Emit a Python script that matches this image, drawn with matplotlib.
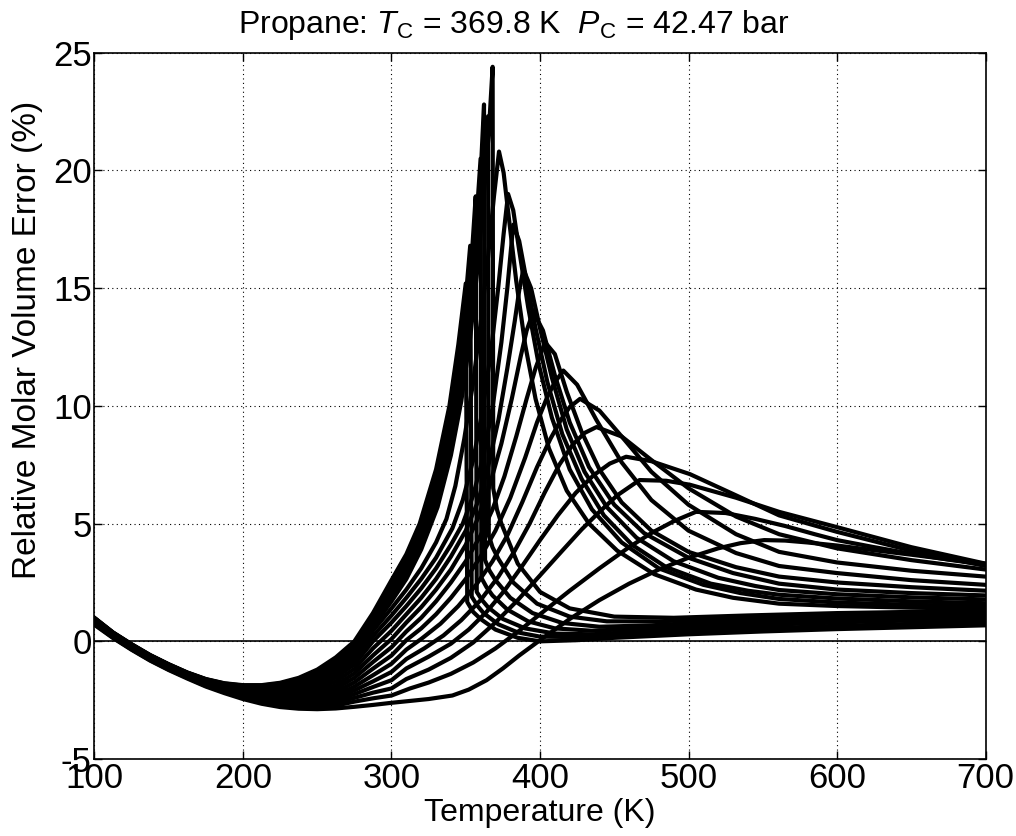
import matplotlib
matplotlib.use("Agg")
import matplotlib.pyplot as plt

# Police proche de Helvetica (MATLAB)
plt.rcParams['font.family'] = ['Liberation Sans', 'DejaVu Sans']
plt.rcParams['mathtext.fontset'] = 'custom'
plt.rcParams['mathtext.rm'] = 'Liberation Sans'
plt.rcParams['mathtext.it'] = 'Liberation Sans:italic'
plt.rcParams['axes.unicode_minus'] = False

# ------ Data ------
# cold part shared by every isobar (K), one row per temperature,
# columns = 7 subcritical isobars then 13 supercritical isobars
T_cold = [100, 112.5, 125, 137.5, 150, 162.5, 175, 187.5, 200, 212.5, 225, 237.5,
          250, 262.5, 275, 287.5, 300]
E_cold = [
    [1.00, 0.99, 0.98, 0.97, 0.96, 0.96, 0.95, 0.93, 0.92, 0.90, 0.88, 0.87, 0.85, 0.83, 0.81, 0.79, 0.78, 0.75, 0.73, 0.70],
    [0.38, 0.37, 0.36, 0.36, 0.35, 0.34, 0.33, 0.32, 0.31, 0.29, 0.28, 0.26, 0.25, 0.23, 0.22, 0.20, 0.19, 0.17, 0.16, 0.14],
    [-0.12, -0.13, -0.14, -0.14, -0.15, -0.16, -0.17, -0.18, -0.19, -0.20, -0.22, -0.23, -0.25, -0.26, -0.28, -0.29, -0.31, -0.33, -0.34, -0.36],
    [-0.58, -0.59, -0.60, -0.60, -0.61, -0.62, -0.63, -0.64, -0.65, -0.66, -0.68, -0.69, -0.71, -0.72, -0.74, -0.75, -0.77, -0.79, -0.80, -0.82],
    [-0.97, -0.98, -0.99, -0.99, -1.00, -1.01, -1.02, -1.03, -1.04, -1.05, -1.07, -1.08, -1.10, -1.11, -1.13, -1.14, -1.16, -1.18, -1.20, -1.22],
    [-1.32, -1.33, -1.34, -1.34, -1.35, -1.36, -1.37, -1.38, -1.39, -1.41, -1.42, -1.44, -1.45, -1.47, -1.48, -1.50, -1.52, -1.53, -1.55, -1.58],
    [-1.60, -1.61, -1.62, -1.63, -1.64, -1.65, -1.66, -1.67, -1.69, -1.71, -1.72, -1.74, -1.76, -1.78, -1.80, -1.82, -1.84, -1.86, -1.89, -1.92],
    [-1.78, -1.79, -1.81, -1.82, -1.83, -1.84, -1.86, -1.88, -1.90, -1.92, -1.94, -1.97, -1.99, -2.02, -2.04, -2.07, -2.10, -2.12, -2.16, -2.20],
    [-1.86, -1.88, -1.90, -1.91, -1.93, -1.95, -1.97, -2.00, -2.03, -2.05, -2.09, -2.13, -2.16, -2.20, -2.23, -2.27, -2.30, -2.34, -2.39, -2.45],
    [-1.86, -1.88, -1.91, -1.93, -1.95, -1.98, -2.00, -2.04, -2.08, -2.12, -2.17, -2.22, -2.26, -2.31, -2.36, -2.41, -2.45, -2.51, -2.57, -2.65],
    [-1.76, -1.79, -1.82, -1.85, -1.88, -1.91, -1.95, -2.00, -2.05, -2.10, -2.16, -2.22, -2.29, -2.35, -2.41, -2.47, -2.53, -2.60, -2.69, -2.79],
    [-1.55, -1.59, -1.63, -1.67, -1.71, -1.75, -1.79, -1.85, -1.92, -1.98, -2.06, -2.14, -2.22, -2.30, -2.38, -2.45, -2.53, -2.62, -2.73, -2.86],
    [-1.20, -1.26, -1.32, -1.38, -1.44, -1.50, -1.56, -1.66, -1.77, -1.88, -1.99, -2.10, -2.21, -2.32, -2.43, -2.53, -2.62, -2.70, -2.79, -2.88],
    [-0.68, -0.76, -0.84, -0.92, -1.00, -1.08, -1.16, -1.26, -1.40, -1.54, -1.70, -1.86, -2.00, -2.14, -2.28, -2.40, -2.51, -2.62, -2.73, -2.85],
    [0.00, -0.09, -0.18, -0.27, -0.36, -0.45, -0.54, -0.66, -0.82, -0.98, -1.17, -1.36, -1.55, -1.74, -1.92, -2.08, -2.24, -2.40, -2.56, -2.78],
    [1.20, 1.10, 1.00, 0.90, 0.80, 0.70, 0.60, 0.45, 0.22, 0.00, -0.30, -0.60, -0.88, -1.16, -1.44, -1.70, -1.94, -2.18, -2.42, -2.70],
    [2.60, 2.45, 2.30, 2.15, 2.00, 1.85, 1.70, 1.40, 1.10, 0.80, 0.45, 0.10, -0.25, -0.60, -0.95, -1.30, -1.65, -2.00, -2.30, -2.61],
]

# hot part of the subcritical isobars: liquid up to saturation, jump, vapour
hot_sub_T = [
    [310, 319, 330, 339, 345, 350, 351, 355, 360, 370, 385, 400, 425, 450, 500, 550, 600, 650, 700],
    [310, 320, 330, 340, 346, 350, 353, 354, 358, 362, 372, 385, 400, 425, 450, 500, 550, 600, 650, 700],
    [310, 320, 330, 340, 346, 351, 354.5, 356.7, 357.4, 361, 365, 375, 390, 410, 435, 470, 520, 570, 620, 660, 700],
    [310, 320, 330, 340, 346, 352, 356, 360, 360.5, 364, 368, 378, 392, 410, 435, 470, 520, 570, 620, 700],
    [310, 320, 330, 340, 346, 352, 357, 360, 362.3, 363, 366, 370, 380, 395, 415, 440, 475, 520, 570, 620, 700],
    [310, 320, 330, 340, 346, 352, 357, 361, 365, 365.5, 368, 372, 382, 398, 420, 445, 480, 530, 580, 630, 700],
    [310, 320, 331, 340, 347, 353, 358, 362, 365.5, 368.1, 368.5, 371, 374, 385, 400, 420, 450, 490, 540, 600, 650, 700],
]
hot_sub_E = [
    [3.7, 5.0, 7.3, 10.0, 12.6, 15.2, 1.67, 1.25, 0.95, 0.5, 0.15, 0.0, 0.05, 0.15, 0.3, 0.42, 0.52, 0.6, 0.68],
    [3.5, 4.95, 6.9, 9.6, 12.2, 14.6, 16.8, 1.9, 1.5, 1.2, 0.72, 0.38, 0.2, 0.18, 0.25, 0.42, 0.55, 0.66, 0.74, 0.8],
    [3.3, 4.7, 6.6, 9.2, 11.6, 14.3, 16.8, 18.9, 2.1, 1.75, 1.45, 0.95, 0.55, 0.33, 0.3, 0.42, 0.6, 0.74, 0.84, 0.9, 0.92],
    [3.1, 4.5, 6.35, 8.85, 11.1, 14.2, 16.8, 20.5, 2.7, 2.3, 1.95, 1.35, 0.85, 0.55, 0.45, 0.55, 0.72, 0.86, 0.96, 1.02],
    [2.95, 4.3, 6.1, 8.5, 10.7, 13.6, 16.9, 19.8, 22.8, 3.45, 3.0, 2.6, 1.85, 1.2, 0.78, 0.62, 0.68, 0.84, 0.98, 1.07, 1.12],
    [2.8, 4.1, 5.85, 8.2, 10.3, 13.1, 16.2, 19.4, 22.3, 4.5, 4.0, 3.5, 2.5, 1.6, 1.05, 0.85, 0.85, 0.98, 1.1, 1.17, 1.2],
    [2.65, 3.9, 5.7, 7.9, 10.2, 12.9, 15.9, 18.8, 21.6, 24.4, 6.5, 5.6, 5.0, 3.3, 2.1, 1.4, 1.05, 1.0, 1.1, 1.2, 1.25, 1.28],
]

# hot part of the supercritical isobars
hot_sup_T = [
    [310, 320, 330, 337, 343, 349, 355, 360, 365, 369, 372.4, 375.5, 379, 384, 390, 397, 406, 418, 433, 452, 477, 505, 530, 561, 600, 650, 700],
    [310, 320, 330, 341, 348, 355, 361, 367, 372, 375.5, 378.5, 382, 386, 392, 399, 408, 420, 435, 455, 480, 510, 535, 561, 600, 650, 700],
    [310, 320, 330, 340, 348, 355, 362, 368, 374, 378, 382, 386, 391, 397, 405, 415, 428, 443, 462, 485, 515, 540, 561, 600, 650, 700],
    [310, 320, 330, 340, 350, 358, 365, 372, 378, 383, 386, 388.8, 394, 400, 408, 418, 430, 445, 465, 490, 520, 545, 561, 600, 650, 700],
    [310, 320, 330, 340, 350, 358, 366, 374, 381, 387, 391, 395.5, 402, 410, 420, 433, 450, 470, 500, 530, 561, 600, 650, 700],
    [310, 320, 330, 340, 350, 360, 368, 376, 384, 391, 397, 403.4, 410, 418, 428, 440, 455, 475, 500, 532, 561, 600, 650, 700],
    [310, 320, 330, 340, 350, 360, 370, 380, 390, 398, 405, 410, 415.7, 425, 438, 455, 475, 500, 532, 561, 600, 650, 700],
    [310, 320, 333, 345, 357, 368, 378, 388, 398, 407, 414, 420, 427, 440, 455, 475, 500, 532, 561, 600, 650, 700],
    [310, 322, 335, 347, 360, 372, 383, 393, 403, 413, 422, 430, 438, 455, 475, 500, 532, 561, 600, 650, 700],
    [310, 325, 340, 352, 364, 376, 388, 400, 412, 424, 436, 447, 458, 475, 501, 532, 561, 600, 650, 700],
    [310, 325, 340, 355, 370, 385, 400, 415, 428, 440, 452, 467, 485, 501, 532, 561, 600, 650, 700],
    [312.5, 325, 340, 355, 370, 385, 400, 420, 440, 460, 475, 490, 505, 525, 545, 565, 585, 600, 625, 650, 675, 700],
    [312.5, 325, 341, 352, 364, 375, 386, 400, 420, 440, 460, 480, 500, 520, 535, 551, 565, 580, 600, 625, 650, 675, 700],
]
hot_sup_E = [
    [2.2, 3.1, 4.2, 5.2, 6.6, 8.6, 11.0, 13.5, 16.3, 18.9, 20.8, 19.9, 18.0, 15.3, 12.6, 10.3, 8.2, 6.4, 5.0, 3.85, 2.85, 2.2, 1.85, 1.6, 1.5, 1.43, 1.38],
    [1.85, 2.65, 3.55, 4.8, 6.0, 7.7, 9.7, 12.3, 15.1, 17.3, 19.0, 18.3, 16.6, 14.2, 11.8, 9.5, 7.3, 5.6, 4.2, 3.1, 2.4, 2.05, 1.8, 1.65, 1.55, 1.5],
    [1.5, 2.25, 3.1, 4.1, 5.0, 6.2, 7.9, 9.9, 12.7, 15.0, 17.7, 17.0, 15.3, 13.3, 11.0, 8.8, 6.9, 5.35, 4.1, 3.15, 2.45, 2.15, 1.98, 1.82, 1.7, 1.62],
    [1.15, 1.85, 2.65, 3.6, 4.7, 5.9, 7.4, 9.4, 11.6, 13.6, 14.9, 15.8, 15.0, 13.3, 11.2, 9.0, 7.2, 5.7, 4.4, 3.4, 2.7, 2.35, 2.18, 2.0, 1.87, 1.78],
    [0.8, 1.45, 2.2, 3.05, 4.1, 5.2, 6.6, 8.4, 10.3, 12.1, 13.2, 14.0, 13.2, 11.3, 9.3, 7.4, 5.8, 4.6, 3.55, 2.9, 2.45, 2.2, 2.05, 1.95],
    [0.42, 1.0, 1.7, 2.5, 3.4, 4.5, 5.6, 7.0, 8.7, 10.3, 11.6, 12.7, 12.2, 10.6, 8.9, 7.3, 5.9, 4.7, 3.8, 3.15, 2.75, 2.5, 2.3, 2.15],
    [0.05, 0.55, 1.15, 1.85, 2.65, 3.6, 4.7, 6.1, 7.8, 9.3, 10.4, 11.0, 11.5, 10.9, 9.4, 7.6, 6.0, 4.7, 3.75, 3.2, 2.9, 2.6, 2.4],
    [-0.35, 0.1, 0.75, 1.5, 2.4, 3.4, 4.5, 5.9, 7.4, 8.6, 9.4, 9.95, 10.3, 9.8, 8.7, 7.2, 5.8, 4.55, 3.8, 3.35, 3.0, 2.75],
    [-0.75, -0.3, 0.25, 0.9, 1.75, 2.75, 3.85, 5.0, 6.3, 7.5, 8.35, 8.85, 9.1, 8.7, 7.7, 6.5, 5.3, 4.55, 3.95, 3.45, 3.05],
    [-1.15, -0.65, -0.1, 0.5, 1.25, 2.15, 3.2, 4.3, 5.35, 6.3, 7.05, 7.55, 7.84, 7.65, 7.1, 6.2, 5.35, 4.65, 3.85, 3.2],
    [-1.6, -1.2, -0.7, -0.05, 0.8, 1.75, 2.8, 3.85, 4.75, 5.5, 6.2, 6.85, 6.82, 6.65, 6.1, 5.5, 4.85, 4.0, 3.3],
    [-2.0, -1.75, -1.38, -0.9, -0.3, 0.4, 1.15, 2.15, 3.1, 4.0, 4.6, 5.1, 5.5, 5.45, 5.2, 4.9, 4.55, 4.3, 4.0, 3.72, 3.47, 3.25],
    [-2.53, -2.45, -2.3, -2.05, -1.65, -1.15, -0.6, 0.05, 0.95, 1.75, 2.45, 3.05, 3.55, 3.95, 4.17, 4.3, 4.28, 4.2, 4.07, 3.87, 3.68, 3.48, 3.3],
]

x_ticks = [100, 200, 300, 400, 500, 600, 700]
y_ticks = [-5, 0, 5, 10, 15, 20, 25]

fig = plt.figure(figsize=(10.16, 8.36), dpi=100)
ax = fig.add_axes([0.093, 0.092, 0.877, 0.845])

# one line per isobar: cold part (column of E_cold) + hot part
hot_T = hot_sub_T + hot_sup_T
hot_E = hot_sub_E + hot_sup_E
for k in range(len(hot_T)):
    cold = [row[k] for row in E_cold]
    ax.plot(T_cold + hot_T[k], cold + hot_E[k], color='k', lw=3.0)

# zero reference line
ax.axhline(0, color='k', lw=1.2)

ax.set_xlim(100, 700)
ax.set_ylim(-5, 25)
ax.set_xticks(x_ticks)
ax.set_yticks(y_ticks)
ax.grid(True, color='k', linestyle=(0, (1, 3)), lw=0.8)
ax.tick_params(direction='in', top=True, right=True, length=6, width=1,
               labelsize=25, pad=2)
for s in ax.spines.values():
    s.set_linewidth(1.2)

ax.set_xlabel('Temperature (K)', fontsize=23, labelpad=2)
ax.set_ylabel('Relative Molar Volume Error (%)', fontsize=24, labelpad=0)
ax.yaxis.set_label_coords(-0.058, 0.593)
ax.set_title(r'Propane: $T_{\mathrm{C}}$ = 369.8 K  $P_{\mathrm{C}}$ = 42.47 bar',
             fontsize=23, x=0.47, pad=14)

fig.savefig('out.png', dpi=100)
